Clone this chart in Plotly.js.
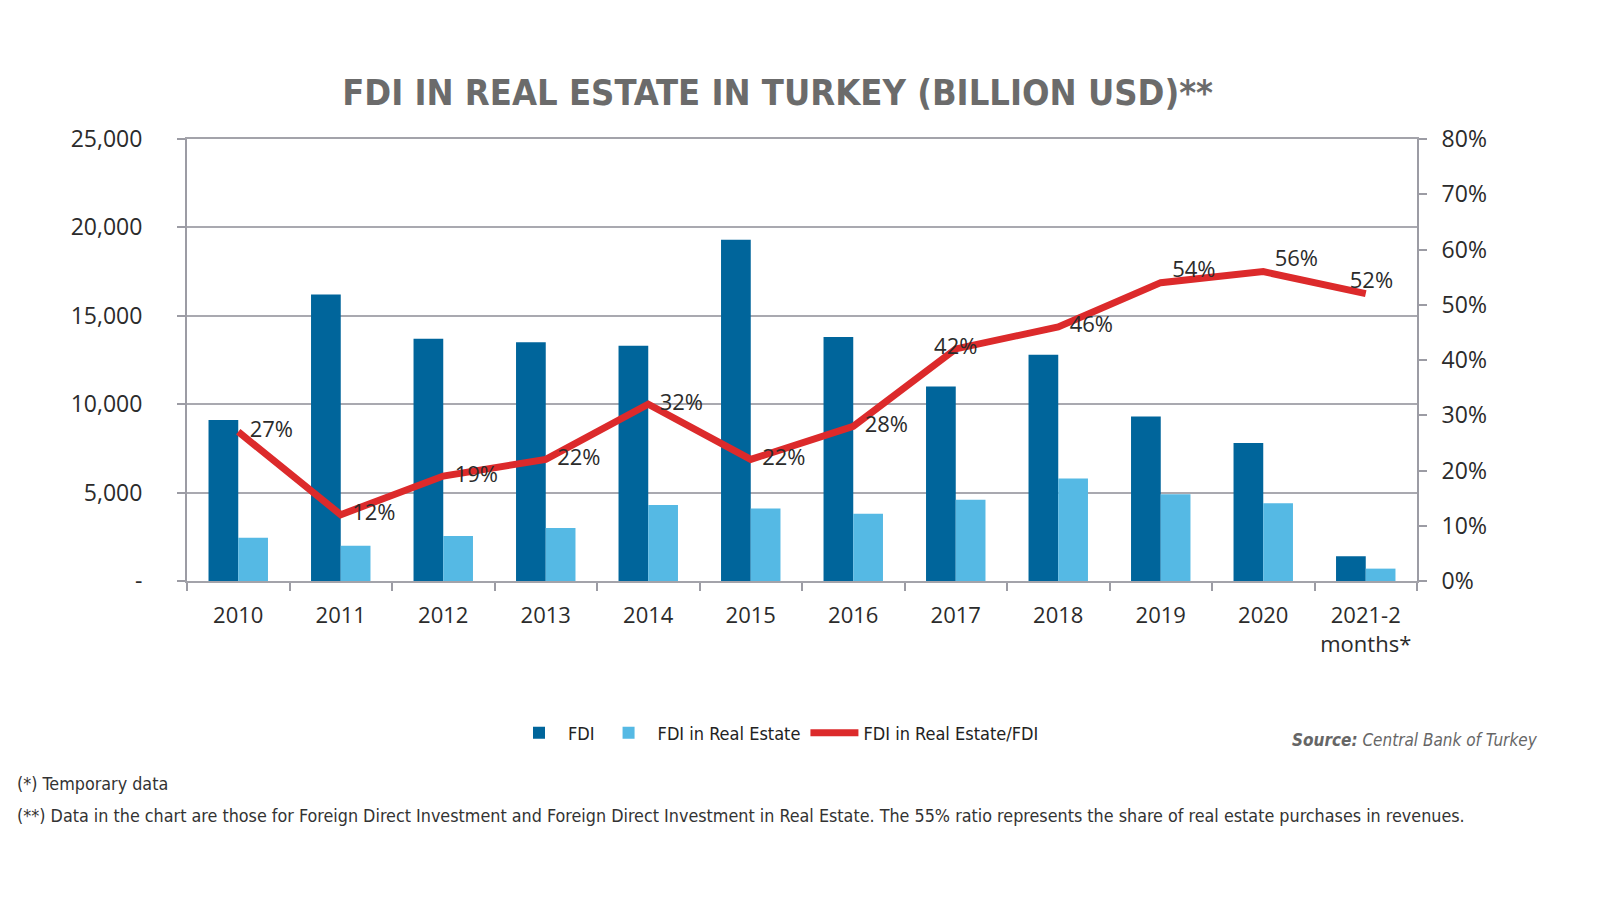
<!DOCTYPE html>
<html>
<head>
<meta charset="utf-8">
<script src="https://cdn.plot.ly/plotly-3.0.1.min.js"></script>
<style>
  html, body { margin: 0; padding: 0; background: #fff; }
  #myDiv { width: 1600px; height: 900px; }
</style>
</head>
<body>
<div id="myDiv"></div>
<script>
// values (million USD, ratio)
var years = ['2010', '2011', '2012', '2013', '2014', '2015', '2016', '2017', '2018', '2019', '2020', '2021-2<br>months*'];
var fdi = [9100, 16200, 13700, 13500, 13300, 19300, 13800, 11000, 12800, 9300, 7800, 1400];
var fdiRealEstate = [2450, 2000, 2550, 3000, 4300, 4100, 3800, 4600, 5800, 4900, 4400, 700];
var ratio = [0.27, 0.12, 0.19, 0.22, 0.32, 0.22, 0.28, 0.42, 0.46, 0.54, 0.56, 0.52];
var ratioLabels = ['27%', '12%', '19%', '22%', '32%', '22%', '28%', '42%', '46%', '54%', '56%', '52%'];
var labelPos = ['middle right', 'middle right', 'middle right', 'middle right', 'middle right', 'middle right',
                'middle right', 'middle center', 'middle right', 'top right', 'top right', 'top center'];

var leftTicks = [0, 5000, 10000, 15000, 20000, 25000];
var leftTickText = ['-', '5,000', '10,000', '15,000', '20,000', '25,000'];

var narrow = '"Liberation Sans Narrow", "DejaVu Sans Condensed", "Arial Narrow", sans-serif';
var tickFont = { family: '"Open Sans", "Noto Sans", sans-serif', size: 23, color: '#2b2b2b' };

// plot area in page pixels
var L = 187, R = 1417, T = 139, B = 581;
function px(x) { return (x - L) / (R - L); }
function py(y) { return (B - y) / (B - T); }

var NB = '\u00a0\u00a0';

var traces = [
  {
    type: 'bar', name: 'FDI', x: years, y: fdi,
    marker: { color: '#00659b' }
  },
  {
    type: 'bar', name: 'FDI in Real Estate', x: years, y: fdiRealEstate,
    marker: { color: '#55b9e4' }
  },
  {
    type: 'scatter', mode: 'lines+text', name: 'FDI in Real Estate/FDI',
    x: years, y: ratio, yaxis: 'y2',
    line: { color: '#dc2a2b', width: 7 },
    text: ratioLabels, textposition: labelPos,
    texttemplate: labelPos.map(function (p) { return p === 'middle center' ? '%{text}' : NB + '%{text}'; }),
    textfont: { family: '"Open Sans", "Noto Sans", sans-serif', size: 22, color: '#2b2b2b' },
    cliponaxis: false
  }
];

var layout = {
  width: 1600, height: 900,
  paper_bgcolor: '#ffffff', plot_bgcolor: '#ffffff',
  margin: { l: L, r: 1600 - R, t: T, b: 900 - B, pad: 0 },
  barmode: 'group', bargap: 0.42, bargroupgap: 0,
  showlegend: true,
  title: {
    text: '<b>FDI IN REAL ESTATE IN TURKEY (BILLION USD)**</b>',
    font: { family: narrow, size: 36, color: '#6b6b6b' },
    x: 0.486, xanchor: 'center', y: 1 - 92 / 900, yanchor: 'middle', yref: 'container'
  },
  xaxis: {
    type: 'category', range: [-0.5, years.length - 0.5],
    tickfont: { family: tickFont.family, size: 22, color: tickFont.color }, tickangle: 0,
    showline: true, mirror: true, linecolor: '#a3a3aa', linewidth: 2,
    ticks: 'outside', tickson: 'boundaries', ticklen: 8, tickcolor: '#9c9ca4', tickwidth: 2,
    showgrid: false, ticklabelstandoff: 14
  },
  yaxis: {
    range: [0, 25000], tickvals: leftTicks, ticktext: leftTickText, tickfont: tickFont,
    showline: true, linecolor: '#9c9ca4', linewidth: 2,
    ticks: 'outside', ticklen: 8, tickcolor: '#9c9ca4', tickwidth: 2,
    showgrid: true, gridcolor: '#a9a9b0', gridwidth: 2, zeroline: false,
    ticklabelstandoff: 30
  },
  yaxis2: {
    overlaying: 'y', side: 'right', range: [0, 0.8], dtick: 0.1, tickformat: '.0%',
    tickfont: tickFont, showgrid: false, zeroline: false,
    showline: true, linecolor: '#9c9ca4', linewidth: 2,
    ticks: 'outside', ticklen: 8, tickcolor: '#9c9ca4', tickwidth: 2,
    ticklabelstandoff: 10
  },
  legend: {
    orientation: 'h', x: px(777), xanchor: 'center', y: py(733), yanchor: 'middle',
    font: { family: narrow, size: 18, color: '#222' },
    itemwidth: 48, tracegroupgap: 0
  },
  annotations: [
    {
      xref: 'paper', yref: 'paper', x: px(1540), y: py(740), xanchor: 'right', yanchor: 'middle',
      text: '<b><i>Source:</i></b><i> Central Bank of Turkey</i>', showarrow: false,
      font: { family: narrow, size: 17, color: '#666' }
    },
    {
      xref: 'paper', yref: 'paper', x: px(15), y: py(783), xanchor: 'left', yanchor: 'middle',
      text: '(*) Temporary data', showarrow: false,
      font: { family: narrow, size: 17.8, color: '#333' }
    },
    {
      xref: 'paper', yref: 'paper', x: px(15), y: py(815), xanchor: 'left', yanchor: 'middle',
      text: '(**) Data in the chart are those for Foreign Direct Investment and Foreign Direct Investment in Real Estate. The 55% ratio represents the share of real estate purchases in revenues.',
      showarrow: false,
      font: { family: narrow, size: 17.8, color: '#333' }
    }
  ]
};

Plotly.newPlot('myDiv', traces, layout, { staticPlot: true, displayModeBar: false });
</script>
</body>
</html>
